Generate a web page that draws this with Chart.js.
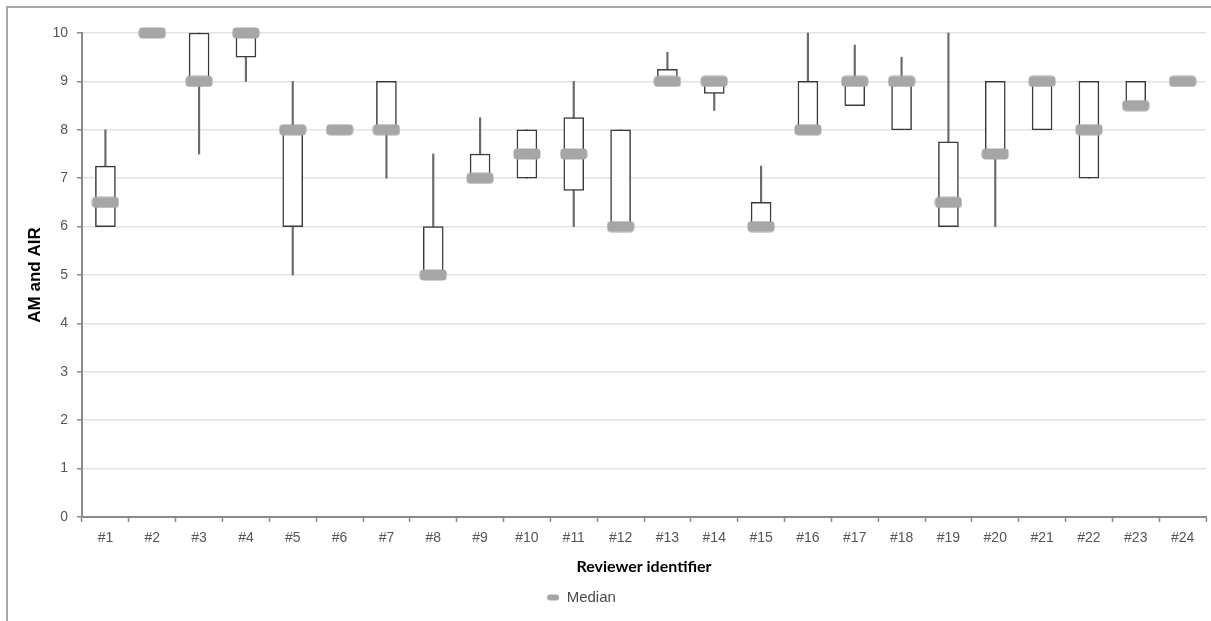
<!DOCTYPE html>
<html>
<head>
<meta charset="utf-8">
<script src="https://cdn.jsdelivr.net/npm/chart.js"></script>
<style>
  html, body { margin: 0; padding: 0; background: #ffffff; }
  #wrap { position: relative; width: 1211px; height: 621px; overflow: hidden; }
  #frame { position: absolute; left: 6px; top: 6px; width: 1300px; height: 700px;
           border-top: 2px solid #a8a8a8; border-left: 2px solid #a8a8a8; }
  #c { position: absolute; left: 0; top: 0; }
</style>
</head>
<body>
<div id="wrap">
  <div id="frame"></div>
  <canvas id="c" width="1211" height="621"></canvas>
</div>
<script>
// ---- data ----
const reviewers = ['#1','#2','#3','#4','#5','#6','#7','#8','#9','#10','#11','#12',
                   '#13','#14','#15','#16','#17','#18','#19','#20','#21','#22','#23','#24'];
const minVals    = [6, 10, 7.5, 9, 5, 8, 7, 5, 7, 7, 6, 6, 9, 8.4, 6, 8, 8.5, 8, 6, 6, 8, 7, 8.5, 9];
const q1Vals     = [6, 10, 9, 9.5, 6, 8, 8, 5, 7, 7, 6.75, 6, 9, 8.75, 6, 8, 8.5, 8, 6, 7.5, 8, 7, 8.5, 9];
const medianVals = [6.5, 10, 9, 10, 8, 8, 8, 5, 7, 7.5, 7.5, 6, 9, 9, 6, 8, 9, 9, 6.5, 7.5, 9, 8, 8.5, 9];
const q3Vals     = [7.25, 10, 10, 10, 8, 8, 9, 6, 7.5, 8, 8.25, 8, 9.25, 9, 6.5, 9, 9, 9, 7.75, 9, 9, 9, 9, 9];
const maxVals    = [8, 10, 10, 10, 9, 8, 9, 7.5, 8.25, 8, 9, 8, 9.6, 9, 7.25, 10, 9.75, 9.5, 10, 9, 9, 9, 9, 9];
const yTickValues = [0,1,2,3,4,5,6,7,8,9,10];

// ---- built from the arrays ----
const boxData = q1Vals.map((q1, i) => (q3Vals[i] > q1 ? [q1, q3Vals[i]] : null));
const whiskerData = minVals.map((mn, i) => (maxVals[i] > mn ? [mn, maxVals[i]] : null));

// median marker: rounded gray bar
const medianImg = document.createElement('canvas');
medianImg.width = 28; medianImg.height = 12;
(function () {
  const g = medianImg.getContext('2d');
  g.fillStyle = '#a6a6a6';
  const w = 27, h = 11, r = 4, x = 0.5, y = 0.5;
  g.beginPath();
  g.moveTo(x + r, y);
  g.lineTo(x + w - r, y);
  g.arcTo(x + w, y, x + w, y + r, r);
  g.lineTo(x + w, y + h - r);
  g.arcTo(x + w, y + h, x + w - r, y + h, r);
  g.lineTo(x + r, y + h);
  g.arcTo(x, y + h, x, y + h - r, r);
  g.lineTo(x, y + r);
  g.arcTo(x, y, x + r, y, r);
  g.closePath();
  g.fill();
})();

const shiftLegend = {
  id: 'shiftLegend',
  afterLayout(chart) {
    const l = chart.legend;
    if (l) { l.left -= 22; l.right -= 22; }
  }
};

const tickFont = { family: "'Liberation Sans', Arial, sans-serif", size: 14 };

new Chart(document.getElementById('c'), {
  type: 'bar',
  data: {
    labels: reviewers,
    datasets: [
      {
        type: 'line',
        label: 'Median',
        data: medianVals,
        showLine: false,
        pointStyle: medianImg,
        pointRadius: 5,
        pointHoverRadius: 5,
        backgroundColor: '#a6a6a6',
        borderColor: '#a6a6a6',
        borderWidth: 0,
        clip: false,
        order: 0
      },
      {
        label: 'Box',
        data: boxData,
        backgroundColor: '#ffffff',
        borderColor: '#3a3a3a',
        borderWidth: 1.5,
        borderSkipped: false,
        barThickness: 20,
        grouped: false,
        clip: false,
        order: 1
      },
      {
        label: 'Whisker',
        data: whiskerData,
        backgroundColor: '#6a6a6a',
        borderWidth: 0,
        barThickness: 1.5,
        grouped: false,
        clip: false,
        order: 2
      }
    ]
  },
  options: {
    responsive: false,
    animation: false,
    devicePixelRatio: 1,
    layout: { padding: { left: 0, right: 4, top: 33, bottom: 6 } },
    plugins: {
      tooltip: { enabled: false },
      legend: {
        position: 'bottom',
        labels: {
          filter: (item) => item.text === 'Median',
          boxWidth: 12,
          boxHeight: 6,
          useBorderRadius: true,
          borderRadius: 3,
          padding: 10,
          color: '#4a4a4a',
          font: { family: "'Liberation Sans', Arial, sans-serif", size: 15 }
        }
      }
    },
    scales: {
      x: {
        offset: true,
        grid: { display: true, drawOnChartArea: false, drawTicks: true, tickLength: 5,
                tickColor: '#8a8a8a', tickWidth: 1.5, offset: true },
        border: { display: true, color: '#8a8a8a', width: 2 },
        ticks: { color: '#555555', font: tickFont, padding: 8, maxRotation: 0, autoSkip: false },
        title: {
          display: true,
          text: 'Reviewer identifier',
          color: '#000000',
          font: { family: "Lato, 'Open Sans', sans-serif", size: 16, weight: 'bold' },
          padding: { top: 2, bottom: 4 }
        }
      },
      y: {
        min: 0,
        max: 10,
        afterFit: (scale) => { scale.width = 82; },
        afterBuildTicks: (scale) => { scale.ticks = yTickValues.map(v => ({ value: v })); },
        grid: { color: '#e3e3e3', lineWidth: 1.5, tickLength: 5, tickColor: '#8a8a8a', tickWidth: 1.5 },
        border: { display: true, color: '#8a8a8a', width: 2 },
        ticks: { color: '#555555', font: tickFont, padding: 9, stepSize: 1 },
        title: {
          display: true,
          text: 'AM and AIR',
          color: '#000000',
          font: { family: "'Liberation Sans', Arial, sans-serif", size: 17, weight: 'bold' },
          padding: { top: 25, bottom: 0 }
        }
      }
    }
  },
  plugins: [shiftLegend]
});
</script>
</body>
</html>
